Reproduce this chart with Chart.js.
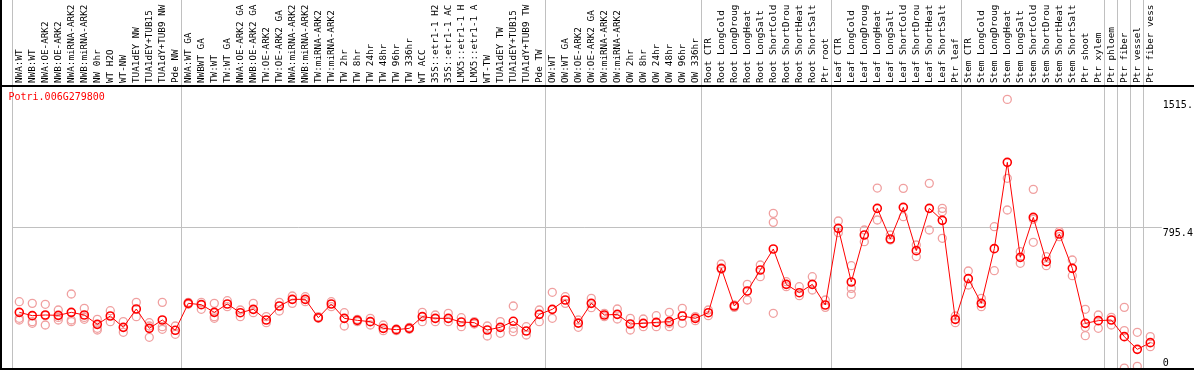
<!DOCTYPE html>
<html>
<head>
<meta charset="utf-8">
<script src="https://cdn.jsdelivr.net/npm/chart.js@4.4.1/dist/chart.umd.min.js"></script>
<style>
  html, body { margin: 0; padding: 0; background: #fff; }
  #wrap { position: relative; width: 1194px; height: 370px; overflow: hidden; }
  #title { position: absolute; left: 8.5px; top: 92px; font: 10px 'DejaVu Sans Mono', monospace; line-height: 10px; color: #ff0000; white-space: nowrap; }
  .frame { position: absolute; background: #000; }
</style>
</head>
<body>
<div id="wrap">
  <canvas id="chart" width="1194" height="370"></canvas>
  <div id="title">Potri.006G279800</div>
  <div class="frame" style="left:0;top:0;width:2px;height:370px"></div>
  <div class="frame" style="left:0;top:85px;width:1194px;height:2px"></div>
  <div class="frame" style="left:0;top:368px;width:1194px;height:2px"></div>
</div>
<script>
// sample labels, in plot order
const categories = [
  'NWA:WT', 'NWB:WT', 'NWA:OE-ARK2', 'NWB:OE-ARK2', 'NWA:miRNA-ARK2', 'NWB:miRNA-ARK2', 'NW 0hr', 'WT H2O', 'WT-NW',
  'TUA1dEY NW', 'TUA1dEY+TUB15', 'TUA1dY+TUB9 NW', 'Pde NW',
  'NWA:WT GA', 'NWBWT GA', 'TW:WT', 'TW:WT GA', 'NWA:OE-ARK2 GA', 'NWB:OE-ARK2 GA', 'TW:OE-ARK2', 'TW:OE-ARK2 GA',
  'NWA:miRNA-ARK2', 'NWB:miRNA-ARK2', 'TW:miRNA-ARK2', 'TW:miRNA-ARK2', 'TW 2hr', 'TW 8hr', 'TW 24hr', 'TW 48hr',
  'TW 96hr', 'TW 336hr', 'WT ACC', '35S::etr1-1 H2', '35S::etr1-1 AC', 'LMX5::etr1-1 H', 'LMX5::etr1-1 A', 'WT-TW',
  'TUA1dEY TW', 'TUA1dEY+TUB15', 'TUA1dY+TUB9 TW', 'Pde TW',
  'OW:WT', 'OW:WT GA', 'OW:OE-ARK2', 'OW:OE-ARK2 GA', 'OW:miRNA-ARK2', 'OW:miRNA-ARK2', 'OW 2hr', 'OW 8hr', 'OW 24hr',
  'OW 48hr', 'OW 96hr', 'OW 336hr',
  'Root CTR', 'Root LongCold', 'Root LongDroug', 'Root LongHeat', 'Root LongSalt', 'Root ShortCold', 'Root ShortDrou',
  'Root ShortHeat', 'Root ShortSalt', 'Ptr root',
  'Leaf CTR', 'Leaf LongCold', 'Leaf LongDroug', 'Leaf LongHeat', 'Leaf LongSalt', 'Leaf ShortCold', 'Leaf ShortDrou',
  'Leaf ShortHeat', 'Leaf ShortSalt', 'Ptr leaf',
  'Stem CTR', 'Stem LongCold', 'Stem LongDroug', 'Stem LongHeat', 'Stem LongSalt', 'Stem ShortCold', 'Stem ShortDrou',
  'Stem ShortHeat', 'Stem ShortSalt', 'Ptr shoot', 'Ptr xylem',
  'Ptr phloem', 'Ptr fiber', 'Ptr vessel', 'Ptr fiber vess'
];

// index where each experiment block starts (last entry = end of plot)
const groupStarts = [0, 13, 41, 53, 63, 73, 84, 85, 86, 87, 88];

// mean expression per sample
const means = [
  318.5, 299.8, 303.5, 301.7, 318.5, 303.5, 251.1, 297.9, 234.2, 337.3,
  228.6, 275.4, 217.4, 369.1, 361.6, 318.5, 365.4, 316.6, 335.4, 275.4,
  354.1, 391.6, 391.6, 288.5, 365.4, 284.8, 273.6, 266.1, 228.6, 221.1,
  228.6, 294.2, 284.8, 284.8, 264.2, 260.4, 219.2, 234.2, 268.0, 213.6,
  307.3, 335.4, 387.8, 258.0, 369.1, 303.5, 307.3, 253.0, 256.7, 262.3,
  266.1, 297.9, 284.8, 316.6, 565.9, 354.1, 438.4, 556.5, 674.5, 475.9,
  429.0, 475.9, 359.7, 790.7, 489.0, 753.2, 903.1, 730.7, 908.7, 665.2,
  903.1, 835.7, 279.2, 507.8, 369.1, 676.4, 1161.7, 627.7, 852.5, 603.3,
  758.8, 565.9, 256.7, 271.7, 275.4, 181.8, 110.5, 148.0
];

// individual replicates (null = not shown)
const rep1 = [
  378.5, 369.1, 363.5, 331.6, 421.6, 341.0, 279.2, 327.9, 266.1, 374.7,
  260.4, 374.7, 241.7, 374.7, 374.7, 369.1, 384.1, 331.6, 369.1, 294.2,
  374.7, 410.3, 406.6, 284.8, 378.5, 316.6, 279.2, 284.8, 247.3, 224.8,
  234.2, 318.5, 303.5, 312.9, 288.5, 266.1, 241.7, 266.1, 354.1, 237.9,
  331.6, 431.0, 406.6, 275.4, 397.2, 294.2, 337.3, 284.8, 281.0, 299.8,
  318.5, 341.0, 294.2, 331.6, 590.2, 359.7, 475.9, 584.6, 875.0, 490.9,
  462.8, 519.0, 387.8, 831.9, 580.8, 781.3, 1017.0, 753.2, 1015.5, 697.0,
  1043.6, 903.1, 297.9, 550.9, 397.2, 800.0, 1515.6, 659.5, 1009.9, 631.4,
  772.0, 612.7, 335.4, 303.5, 290.4, 346.6, 206.1, 181.8
];
const rep2 = [
  284.8, 266.1, 247.3, 290.0, 275.4, 279.2, 219.2, 266.1, 206.1, 294.2,
  178.0, 237.9, 194.9, 363.5, 335.4, 294.2, 350.4, 294.2, 316.6, 260.4,
  326.0, 369.1, 378.5, 294.2, 350.4, 241.7, 266.1, 247.3, 215.5, 215.5,
  223.0, 266.1, 266.1, 266.1, 237.9, 253.0, 185.5, 200.5, 228.6, 191.1,
  266.1, 284.8, 369.1, 234.2, 344.8, 312.9, 281.0, 219.2, 237.9, 237.9,
  237.9, 256.7, 271.7, 299.8, 560.2, 346.6, 387.8, 519.0, 824.4, 462.8,
  412.2, 444.1, 346.6, 766.3, 453.4, 715.7, 837.5, 725.1, 856.3, 631.4,
  781.3, 884.4, 260.4, 472.2, 350.4, 552.7, 1071.8, 594.0, 841.3, 580.8,
  743.8, 524.6, 234.2, 228.6, 247.3, 215.5, 15.0, 125.5
];
const rep3 = [
  275.4, 256.7, 300.0, 275.4, 266.1, 290.0, 228.6, null, null, null,
  241.7, 223.0, null, null, null, 284.8, null, null, null, null,
  null, null, null, null, null, null, null, null, null, null,
  null, null, null, null, null, null, null, null, 209.8, null,
  null, null, null, null, null, null, null, null, null, null,
  256.7, null, null, null, null, null, null, null, 312.9, null,
  null, null, null, null, 419.7, null, null, null, null, null,
  null, 734.5, null, null, null, null, 893.7, null, 712.0, null,
  null, null, 187.4, null, null, 5.0, null, null
];

const yTicks = [0, 795.4, 1515.6];

const grey = '#c0c0c0';
const clear = 'rgba(0,0,0,0)';
const sepColor = ctx => groupStarts.includes(ctx.index) ? grey : clear;
const gridYColor = ctx => (ctx.tick && ctx.tick.value === 795.4) ? grey : clear;

const repSet = (name, values) => ({
  label: name,
  data: values,
  showLine: false,
  pointStyle: 'circle',
  pointRadius: 4,
  pointBorderWidth: 1.3,
  pointBorderColor: '#f0a0a0',
  pointBackgroundColor: clear,
  clip: false,
  order: 1
});

new Chart(document.getElementById('chart').getContext('2d'), {
  type: 'line',
  data: {
    labels: categories,
    datasets: [
      {
        label: 'mean',
        data: means,
        borderColor: '#ff0000',
        borderWidth: 1,
        pointStyle: 'circle',
        pointRadius: 4,
        pointBorderWidth: 1.6,
        pointBorderColor: '#ff0000',
        pointBackgroundColor: clear,
        order: 0
      },
      repSet('rep1', rep1),
      repSet('rep2', rep2),
      repSet('rep3', rep3)
    ]
  },
  options: {
    responsive: false,
    animation: false,
    layout: { autoPadding: false, padding: { left: 12.8, right: 0, top: 0, bottom: 1 } },
    plugins: { legend: { display: false }, tooltip: { enabled: false }, title: { display: false } },
    scales: {
      x: {
        type: 'category',
        position: 'top',
        offset: true,
        border: { display: false },
        grid: {
          offset: true,
          color: sepColor,
          tickColor: sepColor,
          lineWidth: 1,
          drawTicks: true,
          tickLength: 86
        },
        ticks: {
          autoSkip: false,
          minRotation: 90,
          maxRotation: 90,
          padding: -83,
          labelOffset: 11.5,
          color: '#000',
          font: { family: 'DejaVu Sans Mono', size: 9.3 }
        },
        afterFit: scale => {
          scale.height = 86;
          scale.paddingLeft = 0;
          scale.paddingRight = 0;
        }
      },
      y: {
        position: 'right',
        min: 0,
        max: 1590.8,
        border: { display: false },
        grid: {
          color: gridYColor,
          tickColor: gridYColor,
          drawTicks: true,
          tickLength: 5
        },
        afterBuildTicks: scale => { scale.ticks = yTicks.map(v => ({ value: v })); },
        afterFit: scale => {
          scale.width = 37.2;
          scale.paddingTop = 0;
          scale.paddingBottom = 0;
        },
        ticks: {
          padding: 1,
          color: '#000',
          font: { family: 'DejaVu Sans Mono', size: 10 },
          // labels are cut to 5 characters like the original plot
          callback: value => value === 0 ? ['0', ''] : ['', String(value).slice(0, 5)]
        }
      }
    }
  }
});
</script>
</body>
</html>
